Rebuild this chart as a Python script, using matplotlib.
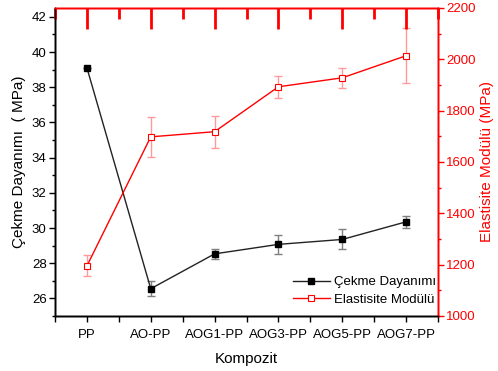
import matplotlib
matplotlib.use("Agg")
import matplotlib.pyplot as plt
from matplotlib.ticker import MultipleLocator, FixedLocator

plt.rcParams['font.family'] = ['Liberation Sans', 'DejaVu Sans']

categories = ["PP", "AO-PP", "AOG1-PP", "AOG3-PP", "AOG5-PP", "AOG7-PP"]
cekme = [39.1, 26.55, 28.53, 29.07, 29.35, 30.35]
cekme_err = [0.0, 0.43, 0.3, 0.55, 0.57, 0.33]
elast = [1195, 1698, 1718, 1893, 1928, 2014]
elast_err = [41, 79, 63, 43, 38, 107]

fig = plt.figure(figsize=(4.98, 3.71), dpi=100)
pos = [55/498, 1 - 316/371, (438-55)/498, (316-8)/371]
ax = fig.add_axes(pos)
ax2 = ax.twinx()

x = list(range(len(categories)))
red = "#ff0000"

ax.errorbar(x, cekme, yerr=cekme_err, fmt='none', ecolor='#7f7f7f', elinewidth=1, capsize=3, capthick=1, zorder=2)
l1, = ax.plot(x, cekme, color='#222222', lw=1, marker='s', ms=5, mfc='black', mec='black', zorder=3, label="Çekme Dayanımı")

ax2.errorbar(x, elast, yerr=elast_err, fmt='none', ecolor='#ff9a9a', elinewidth=1, capsize=3, capthick=1, zorder=2)
l2, = ax2.plot(x, elast, color=red, lw=1, marker='s', ms=5, mfc='white', mec=red, mew=0.8, zorder=3, label="Elastisite Modülü")

ax.set_xlim(-0.5, 5.5)
ax.set_ylim(25, 42.5)
ax2.set_ylim(1000, 2200)

ax.set_xticks(x)
ax.set_xticklabels(categories, fontsize=9.5)
ax.xaxis.set_minor_locator(FixedLocator([-0.5 + i for i in range(7)]))
ax.set_yticks(range(26, 43, 2))
ax.yaxis.set_minor_locator(MultipleLocator(1))
ax.tick_params(axis='y', labelsize=9.5, direction='out', length=4, width=1, pad=2)
ax.tick_params(axis='y', which='minor', direction='out', length=2.5, width=1)
ax.tick_params(axis='x', which='both', direction='out', length=4, width=1, top=False, pad=5)

ax2.yaxis.set_major_locator(MultipleLocator(200))
ax2.yaxis.set_minor_locator(MultipleLocator(100))
ax2.tick_params(axis='y', which='major', colors=red, labelsize=9.5, direction='out', length=4, width=1, pad=2)
ax2.tick_params(axis='y', which='minor', colors=red, direction='out', length=2.5, width=1)

# top spine with inward ticks (red) on a separate twin axes
ax3 = ax.twiny()
ax3.set_xlim(-0.5, 5.5)
ax3.set_xticks(x)
ax3.set_xticks([-0.5 + i for i in range(7)], minor=True)
ax3.tick_params(axis='x', which='major', direction='in', length=15, width=2, color=red, labeltop=False)
ax3.tick_params(axis='x', which='minor', direction='in', length=8, width=2, color=red)

for a in (ax, ax2, ax3):
    a.spines['top'].set_color(red)
    a.spines['right'].set_color(red)
    for s in a.spines.values():
        s.set_linewidth(1)

ax.set_xlabel("Kompozit", fontsize=11, labelpad=8)
ax.set_ylabel("Çekme Dayanımı  ( MPa)", fontsize=11, labelpad=4)
ax2.set_ylabel("Elastisite Modülü (MPa)", fontsize=11, color=red, labelpad=3)

ax2.legend(handles=[l1, l2], loc='lower right', bbox_to_anchor=(1.025, -0.005), frameon=False,
           fontsize=9.5, handlelength=2.8, handletextpad=0.3, labelspacing=0.4)

fig.savefig("out.png", dpi=100)
